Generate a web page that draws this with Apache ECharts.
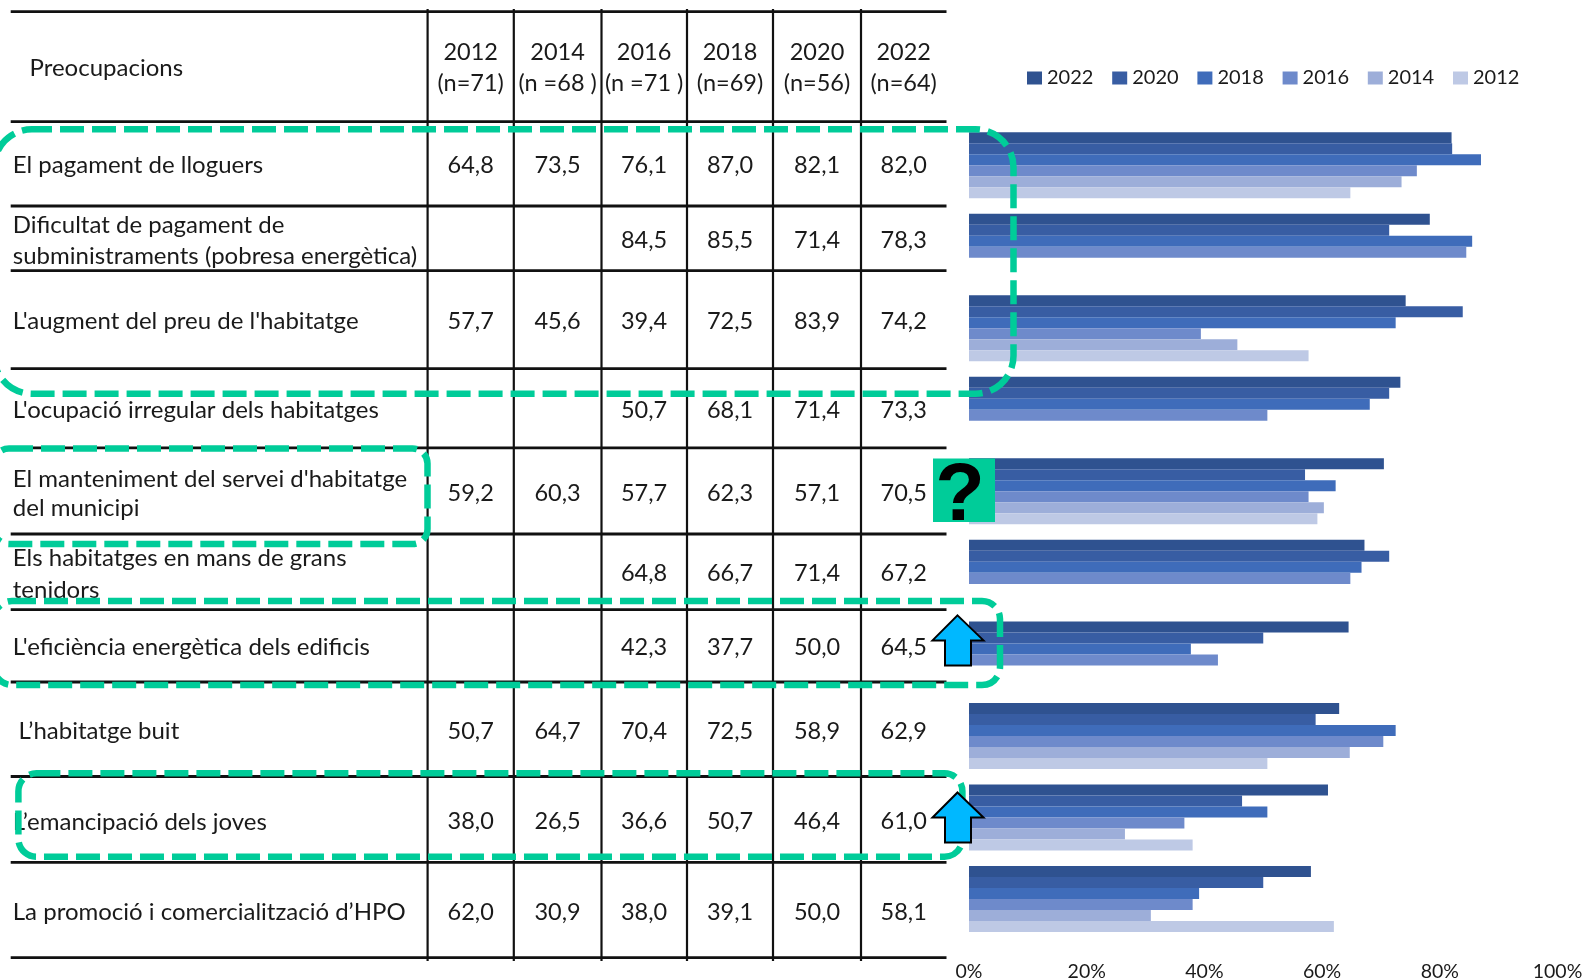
<!DOCTYPE html>
<html><head><meta charset="utf-8">
<style>html,body{margin:0;padding:0;background:#fff}#c{width:1585px;height:979px}</style>
<script src="https://cdn.jsdelivr.net/npm/echarts@6/dist/echarts.min.js"></script>
</head><body><div id="c"></div>
<script>
// ---- data ----
const headerLabel = 'Preocupacions';
const categories = [
  'El pagament de lloguers',
  'Dificultat de pagament de\nsubministraments (pobresa energètica)',
  "L'augment del preu de l'habitatge",
  "L'ocupació irregular dels habitatges",
  "El manteniment del servei d'habitatge\ndel municipi",
  'Els habitatges en mans de grans\ntenidors',
  "L'eficiència energètica dels edificis",
  ' L’habitatge buit',
  'L’emancipació dels joves',
  'La promoció i comercialització d’HPO'
];
const years = ['2012','2014','2016','2018','2020','2022'];
const sampleLabels = ['(n=71)','(n =68 )','(n =71 )','(n=69)','(n=56)','(n=64)'];
const v2012 = [64.8,null,57.7,null,59.2,null,null,50.7,38.0,62.0];
const v2014 = [73.5,null,45.6,null,60.3,null,null,64.7,26.5,30.9];
const v2016 = [76.1,84.5,39.4,50.7,57.7,64.8,42.3,70.4,36.6,38.0];
const v2018 = [87.0,85.5,72.5,68.1,62.3,66.7,37.7,72.5,50.7,39.1];
const v2020 = [82.1,71.4,83.9,71.4,57.1,71.4,50.0,58.9,46.4,50.0];
const v2022 = [82.0,78.3,74.2,73.3,70.5,67.2,64.5,62.9,61.0,58.1];
const byYear = [v2012,v2014,v2016,v2018,v2020,v2022];
const axisTicks = [0,20,40,60,80,100];

// ---- layout and style ----
const FONT = 'Lato';
const TXT = '#1a1a1a';
const GREEN = '#00CC99';
const BLUE = '#00B8FF';
const seriesColors = {'2022':'#2F5290','2020':'#385DA3','2018':'#3F6CBA','2016':'#6E8ACB','2014':'#9DAED9','2012':'#BEC9E5'};
const hLines = [11.7,121.7,206,270.7,368.7,447.8,534,609.7,682,776.5,862.4,957.6];
const vLines = [427.6,513.8,601.5,687,773,861];
const colCenters = [470.7,557.6,644.1,730,817,903.7];
const labelY = [[165],[225.7,256],[321.7],[410.5],[478.8,508.4],[558.3,590],[647],[731.7],[821.8],[912.3]];
const valueY = [165,240.7,321.7,410.5,493,573.3,647,731.7,821.8,912.3];

const g = [];
hLines.forEach(y => g.push({type:'line',z:1,shape:{x1:10.7,y1:y,x2:946.5,y2:y},style:{stroke:'#111',lineWidth:2.8}}));
vLines.forEach(x => g.push({type:'line',z:1,shape:{x1:x,y1:9,x2:x,y2:961},style:{stroke:'#111',lineWidth:2.2}}));
const txt = (text,x,y,align,fs) => g.push({type:'text',z:2,x,y,style:{text,font:`${fs||24}px ${FONT}`,fill:TXT,textAlign:align||'left',textVerticalAlign:'middle'}});
txt(headerLabel,29.5,68.5);
years.forEach((yr,i)=>{txt(yr,colCenters[i],52.5,'center',23.5);txt(sampleLabels[i],colCenters[i],83.5,'center',23.5);});
categories.forEach((c,r)=>{
  c.split('\n').forEach((line,k)=>{
    const lead = line.startsWith(' ');
    txt(line.trim(), lead?18.4:12.8, labelY[r][k]);
  });
  byYear.forEach((vals,i)=>{ if(vals[r]!=null) txt(vals[r].toFixed(1).replace('.',','),colCenters[i],valueY[r],'center',23.5); });
});
// annotation outlines
[[-6,129.3,1019.5,264.4,38,4],[-6,448.5,433.5,95.5,15,0],[-6,601,1006,84,18,0],[18.4,773.3,944,83.4,18,0]].forEach(a=>{
  g.push({type:'rect',z:20,shape:{x:a[0],y:a[1],width:a[2],height:a[3],r:a[4]},style:{fill:'none',stroke:GREEN,lineWidth:6.5,lineDash:[24,8],lineDashOffset:a[5]}});
});
// question mark
g.push({type:'rect',z:30,shape:{x:933,y:458.5,width:62,height:63.5},style:{fill:GREEN}});
g.push({type:'text',z:31,x:960,y:498,style:{text:'?',font:'bold 81px "Liberation Sans"',fill:'#000',textAlign:'center',textVerticalAlign:'middle'}});
// arrows
[[615.4],[792.5]].forEach(([t])=>{
  g.push({type:'polygon',z:30,shape:{points:[[957.5,t],[983.5,t+25],[971,t+25],[971,t+50],[945,t+50],[945,t+25],[932.5,t+25]]},style:{fill:BLUE,stroke:'#000',lineWidth:2}});
});

const order = ['2022','2020','2018','2016','2014','2012'];
const series = order.map(y=>({
  name:y,type:'bar',barGap:0,barCategoryGap:'19%',
  data:byYear[years.indexOf(y)],
  itemStyle:{color:seriesColors[y]},z:5,silent:true
}));
const chart = echarts.init(document.getElementById('c'),null,{renderer:'canvas'});
chart.setOption({
  animation:false,backgroundColor:'#fff',
  textStyle:{fontFamily:FONT},
  legend:{data:order,left:1027,top:68,itemWidth:15,itemHeight:13,itemGap:18.8,padding:0,icon:'rect',selectedMode:false,
    textStyle:{fontFamily:FONT,fontSize:20,color:TXT,padding:[0,0,0,0]}},
  grid:{left:969,top:124.4,width:588.5,height:815.4,outerBoundsMode:'none'},
  xAxis:{type:'value',min:axisTicks[0],max:axisTicks[axisTicks.length-1],interval:axisTicks[1]-axisTicks[0],
    axisLine:{show:false},axisTick:{show:false},splitLine:{show:false},
    axisLabel:{margin:21.5,fontFamily:FONT,fontSize:19.5,color:TXT,formatter:'{value}%'}},
  yAxis:{type:'category',inverse:true,data:categories,axisLine:{show:false},axisTick:{show:false},axisLabel:{show:false},splitLine:{show:false}},
  series,
  graphic:g
});
</script></body></html>
